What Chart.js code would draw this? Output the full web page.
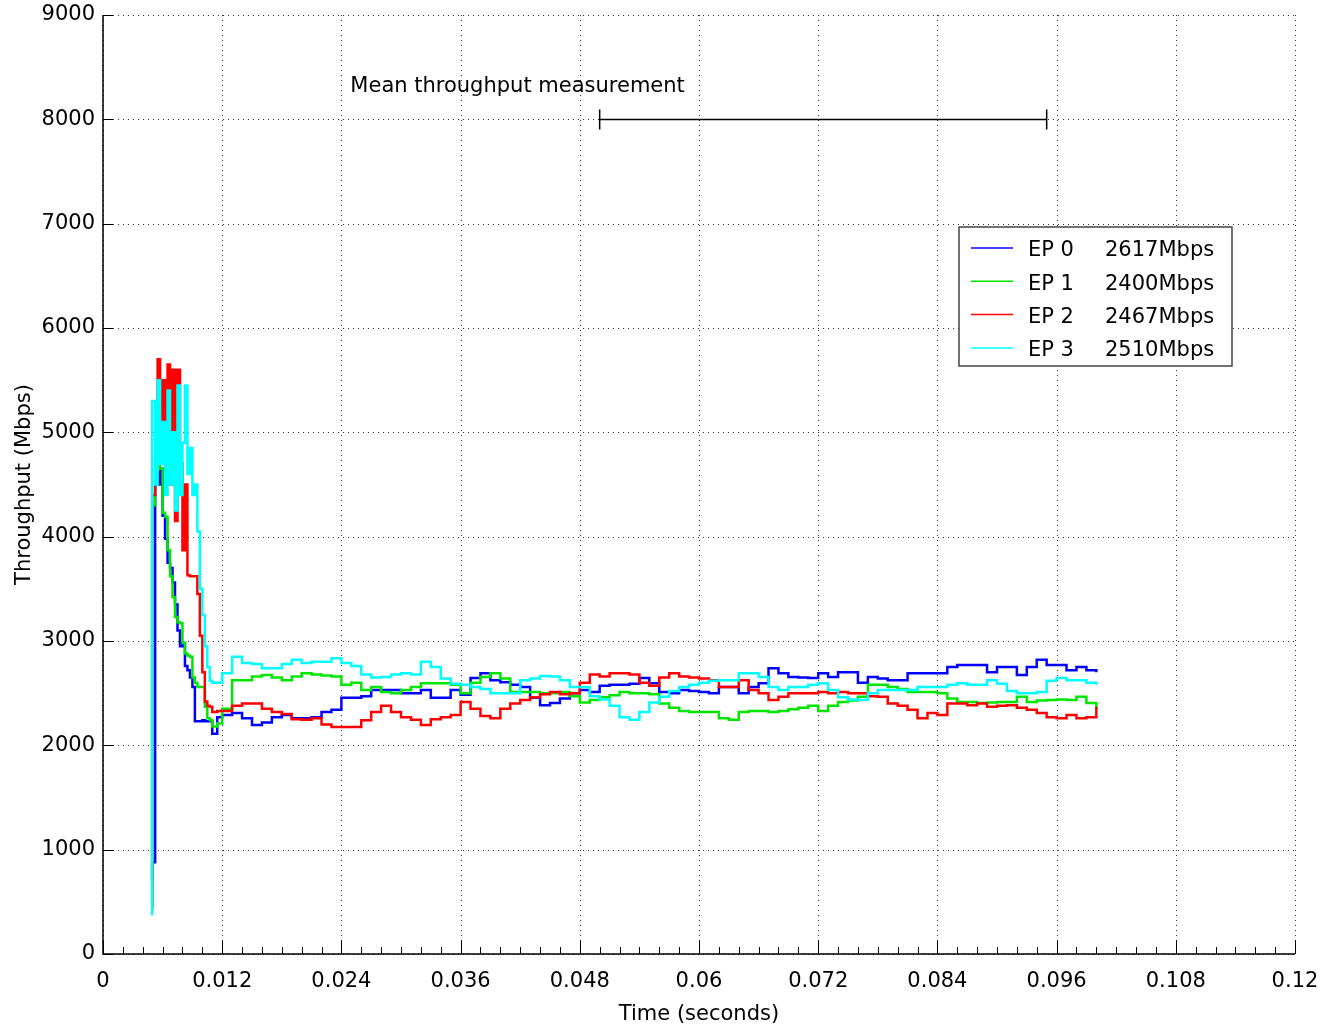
<!DOCTYPE html>
<html>
<head>
<meta charset="utf-8">
<title>Endpoint throughput</title>
<script src="https://cdn.jsdelivr.net/npm/chart.js@4.4.0/dist/chart.umd.min.js"></script>
<style>
    body { margin: 0; background: #ffffff; }
    #wrap { width: 1321px; height: 1030px; }
</style>
</head>
<body>
<div id="wrap"><canvas id="throughputChart"></canvas></div>
<script>
// sample times in milliseconds (finer during the start-up burst)
const timeMs = [
    4.85, 4.95, 5.25, 5.5, 5.75, 6.0, 6.25, 6.5, 6.75, 7.0,
    7.25, 7.5, 7.75, 8.0, 8.25, 8.5, 8.75, 9.0, 9.25, 9.5,
    9.75, 10.0, 10.25, 10.5, 10.75, 11.0, 11.5,
    12, 13, 14, 15, 16, 17, 18, 19, 20, 21,
    22, 23, 24, 25, 26, 27, 28, 29, 30, 31,
    32, 33, 34, 35, 36, 37, 38, 39, 40, 41,
    42, 43, 44, 45, 46, 47, 48, 49, 50, 51,
    52, 53, 54, 55, 56, 57, 58, 59, 60, 61,
    62, 63, 64, 65, 66, 67, 68, 69, 70, 71,
    72, 73, 74, 75, 76, 77, 78, 79, 80, 81,
    82, 83, 84, 85, 86, 87, 88, 89, 90, 91,
    92, 93, 94, 95, 96, 97, 98, 99, 100
];

// throughput in Mbps for each endpoint
const ep0 = [
    700, 880, 4600, 4500, 4650, 4200, 3980, 3750, 3700, 3560,
    3350, 3100, 2950, 2980, 2760, 2720, 2650, 2560, 2230, 2230,
    2230, 2240, 2230, 2230, 2230, 2110, 2270,
    2290, 2310, 2260, 2195, 2220, 2270, 2290, 2260, 2260, 2270,
    2320, 2340, 2455, 2455, 2470, 2530, 2530, 2530, 2500, 2500,
    2530, 2455, 2455, 2530, 2485, 2645, 2690, 2625, 2605, 2580,
    2560, 2455, 2385, 2405, 2450, 2500, 2530, 2510, 2570, 2580,
    2580, 2590, 2645, 2595, 2510, 2500, 2530, 2520, 2510, 2500,
    2560, 2560, 2500, 2560, 2595, 2740, 2690, 2655, 2650, 2645,
    2690, 2655, 2700, 2700, 2600, 2655, 2640, 2625, 2625, 2690,
    2690, 2690, 2690, 2750, 2770, 2770, 2770, 2700, 2750, 2750,
    2675, 2750, 2820, 2770, 2770, 2720, 2750, 2720, 2700
];
const ep1 = [
    420, 4300, 4750, 4820, 4650, 4230, 4190, 3870, 3620, 3420,
    3230, 3180, 3170, 2980, 2880, 2860, 2850, 2650, 2600, 2560,
    2560, 2560, 2370, 2260, 2240, 2180, 2210,
    2350, 2625, 2625, 2660, 2675, 2650, 2625, 2660, 2690, 2680,
    2670, 2660, 2580, 2600, 2530, 2560, 2510, 2500, 2530, 2560,
    2595, 2595, 2595, 2580, 2500, 2600, 2655, 2690, 2640, 2510,
    2510, 2510, 2500, 2500, 2510, 2470, 2410, 2435, 2460, 2480,
    2510, 2500, 2500, 2490, 2400, 2360, 2330, 2320, 2320, 2320,
    2260, 2245, 2320, 2330, 2330, 2320, 2330, 2345, 2360, 2380,
    2330, 2380, 2415, 2430, 2465, 2580, 2580, 2560, 2540, 2510,
    2510, 2510, 2500, 2450, 2415, 2415, 2405, 2410, 2415, 2415,
    2465, 2415, 2430, 2435, 2440, 2435, 2465, 2405, 2340
];
const ep2 = [
    450, 4400, 4700, 5700, 4900, 5500, 4600, 5650, 4500, 5600,
    4150, 5600, 4700, 3870, 4500, 3630, 3620, 3620, 3620, 3450,
    3050, 2700, 2420, 2380, 2370, 2320, 2330,
    2330, 2380, 2400, 2400, 2350, 2320, 2300, 2250, 2245, 2260,
    2200, 2175, 2175, 2175, 2240, 2320, 2380, 2320, 2270, 2245,
    2195, 2250, 2270, 2290, 2415, 2350, 2280, 2260, 2350, 2400,
    2435, 2460, 2490, 2510, 2490, 2500, 2600, 2680, 2660, 2690,
    2690, 2680, 2600, 2570, 2650, 2690, 2660, 2650, 2640, 2625,
    2560, 2560, 2625, 2530, 2500, 2435, 2465, 2500, 2500, 2500,
    2510, 2500, 2510, 2500, 2500, 2470, 2465, 2400, 2380, 2340,
    2260, 2310, 2290, 2400, 2400, 2385, 2400, 2370, 2380, 2385,
    2360, 2340, 2310, 2270, 2260, 2290, 2260, 2270, 2370
];
const ep3 = [
    380, 5300, 4500, 5500, 4700, 5100, 4400, 5400, 4500, 5000,
    4250, 5450, 4400, 4900, 5450, 4600, 4850, 4400, 4500, 4050,
    3500, 3250, 2950, 2750, 2620, 2600, 2600,
    2690, 2850, 2790, 2780, 2740, 2740, 2780, 2820, 2790, 2800,
    2800, 2835, 2790, 2760, 2680, 2650, 2655, 2680, 2690, 2680,
    2800, 2750, 2640, 2590, 2580, 2560, 2540, 2500, 2500, 2500,
    2625, 2640, 2665, 2660, 2625, 2560, 2560, 2470, 2440, 2380,
    2270, 2245, 2320, 2410, 2465, 2520, 2560, 2580, 2600, 2620,
    2625, 2625, 2690, 2690, 2655, 2560, 2530, 2560, 2560, 2580,
    2595, 2530, 2460, 2440, 2435, 2500, 2530, 2530, 2530, 2530,
    2560, 2560, 2560, 2580, 2595, 2580, 2580, 2625, 2590, 2520,
    2500, 2500, 2510, 2620, 2645, 2625, 2625, 2600, 2580
];

const epLabels = ['EP 0', 'EP 1', 'EP 2', 'EP 3'];
const epMeans = ['2617Mbps', '2400Mbps', '2467Mbps', '2510Mbps'];
const epColors = ['#0000ff', '#00e600', '#ff0000', '#00ffff'];

// axis ranges and ticks
const xMax = 0.12;
const xStep = 0.012;
const xMinorStep = 0.002;
const yMax = 9000;
const yStep = 1000;

// measurement window annotation
const measureStart = 0.05;
const measureEnd = 0.095;
const measureLevel = 8000;
const measureText = 'Mean throughput measurement';
const measureTextAt = [0.0249, 8310];

const fontFamily = '"DejaVu Sans", "Liberation Sans", sans-serif';
const fontSize = 21;

function toPoints(values) {
    return values.map(function (v, i) {
        return { x: timeMs[i] / 1000, y: v };
    });
}

// dotted grid, inward ticks, solid left/bottom axes
const frameplugin = {
    id: 'frameplugin',
    beforeDatasetsDraw(chart) {
        const ctx = chart.ctx;
        const area = chart.chartArea;
        const xs = chart.scales.x;
        const ys = chart.scales.y;
        ctx.save();
        ctx.strokeStyle = '#333';
        ctx.lineWidth = 1;
        ctx.setLineDash([1, 4]);
        for (let k = 0; k <= Math.round(xMax / xStep); k++) {
            const px = Math.round(xs.getPixelForValue(k * xStep)) + 0.5;
            ctx.beginPath();
            ctx.moveTo(px, area.top);
            ctx.lineTo(px, area.bottom);
            ctx.stroke();
        }
        for (let k = 0; k <= Math.round(yMax / yStep); k++) {
            const py = Math.round(ys.getPixelForValue(k * yStep)) + 0.5;
            ctx.beginPath();
            ctx.moveTo(area.left, py);
            ctx.lineTo(area.right, py);
            ctx.stroke();
        }
        ctx.restore();
    },
    afterDatasetsDraw(chart) {
        const ctx = chart.ctx;
        const area = chart.chartArea;
        const xs = chart.scales.x;
        const ys = chart.scales.y;
        ctx.save();
        ctx.strokeStyle = '#000';
        ctx.lineWidth = 1;
        // minor + major x ticks
        const nMinor = Math.round(xMax / xMinorStep);
        const perMajor = Math.round(xStep / xMinorStep);
        for (let k = 0; k <= nMinor; k++) {
            const px = Math.round(xs.getPixelForValue(k * xMinorStep)) + 0.5;
            const len = (k % perMajor === 0) ? 14 : 7;
            ctx.beginPath();
            ctx.moveTo(px, area.bottom);
            ctx.lineTo(px, area.bottom - len);
            ctx.stroke();
        }
        for (let k = 0; k <= Math.round(yMax / yStep); k++) {
            const py = Math.round(ys.getPixelForValue(k * yStep)) + 0.5;
            ctx.beginPath();
            ctx.moveTo(area.left, py);
            ctx.lineTo(area.left + 10, py);
            ctx.stroke();
        }
        ctx.lineWidth = 1.5;
        ctx.beginPath();
        ctx.moveTo(area.left, area.top);
        ctx.lineTo(area.left, area.bottom);
        ctx.lineTo(area.right, area.bottom);
        ctx.stroke();
        ctx.restore();
    }
};

// measurement bar, its caption and the boxed legend
const notesplugin = {
    id: 'notesplugin',
    afterDatasetsDraw(chart) {
        const ctx = chart.ctx;
        const area = chart.chartArea;
        const xs = chart.scales.x;
        const ys = chart.scales.y;
        ctx.save();

        const x1 = xs.getPixelForValue(measureStart);
        const x2 = xs.getPixelForValue(measureEnd);
        const yl = Math.round(ys.getPixelForValue(measureLevel)) + 0.5;
        ctx.strokeStyle = '#000';
        ctx.lineWidth = 1.5;
        ctx.beginPath();
        ctx.moveTo(x1, yl);
        ctx.lineTo(x2, yl);
        ctx.moveTo(x1, yl - 10);
        ctx.lineTo(x1, yl + 10);
        ctx.moveTo(x2, yl - 10);
        ctx.lineTo(x2, yl + 10);
        ctx.stroke();

        ctx.fillStyle = '#000';
        ctx.font = fontSize + 'px ' + fontFamily;
        ctx.textAlign = 'left';
        ctx.textBaseline = 'middle';
        ctx.fillText(measureText, xs.getPixelForValue(measureTextAt[0]), ys.getPixelForValue(measureTextAt[1]));

        // legend box
        const bx = area.right - 336;
        const by = area.top + 212;
        const bw = 273;
        const bh = 139;
        ctx.fillStyle = '#fff';
        ctx.fillRect(bx, by, bw, bh);
        ctx.strokeStyle = '#444';
        ctx.lineWidth = 1.5;
        ctx.strokeRect(bx, by, bw, bh);
        for (let i = 0; i < epLabels.length; i++) {
            const ry = by + 21 + i * 33.3;
            ctx.strokeStyle = epColors[i];
            ctx.lineWidth = 1.5;
            ctx.beginPath();
            ctx.moveTo(bx + 12, ry);
            ctx.lineTo(bx + 54, ry);
            ctx.stroke();
            ctx.fillStyle = '#000';
            ctx.fillText(epLabels[i], bx + 69, ry + 3);
            ctx.fillText(epMeans[i], bx + 146, ry + 3);
        }
        ctx.restore();
    }
};

const datasets = [ep0, ep1, ep2, ep3].map(function (vals, i) {
    return {
        label: epLabels[i],
        data: toPoints(vals),
        borderColor: epColors[i],
        backgroundColor: epColors[i],
        borderWidth: 2.5,
        pointRadius: 0,
        stepped: true,
        fill: false,
        order: 4 - i
    };
});

const throughputCtx = document.getElementById('throughputChart').getContext('2d');
new Chart(throughputCtx, {
    type: 'line',
    data: { datasets: datasets },
    options: {
        responsive: true,
        maintainAspectRatio: false,
        animation: false,
        layout: {
            padding: { top: 15, right: 26, left: 0, bottom: 0 }
        },
        plugins: {
            legend: { display: false },
            tooltip: { enabled: false }
        },
        scales: {
            x: {
                type: 'linear',
                min: 0,
                max: xMax,
                grid: { display: false, drawTicks: false },
                border: { display: false },
                ticks: {
                    stepSize: xStep,
                    padding: 15,
                    color: '#000',
                    font: { family: fontFamily, size: fontSize },
                    maxRotation: 0,
                    callback: function (value) {
                        return String(+value.toFixed(3));
                    }
                },
                title: {
                    display: true,
                    text: 'Time (seconds)',
                    color: '#000',
                    font: { family: fontFamily, size: fontSize },
                    padding: { top: 4, bottom: 3 }
                },
                afterFit: function (scale) {
                    scale.height = 76;
                    scale.paddingLeft = 0;
                    scale.paddingRight = 0;
                }
            },
            y: {
                min: 0,
                max: yMax,
                grid: { display: false, drawTicks: false },
                border: { display: false },
                ticks: {
                    stepSize: yStep,
                    padding: 8,
                    color: '#000',
                    font: { family: fontFamily, size: fontSize },
                    callback: function (value) {
                        return String(value);
                    }
                },
                title: {
                    display: true,
                    text: 'Throughput (Mbps)',
                    color: '#000',
                    font: { family: fontFamily, size: fontSize },
                    padding: { top: 12, bottom: 4 }
                },
                afterFit: function (scale) {
                    scale.width = 103;
                    scale.paddingTop = 0;
                    scale.paddingBottom = 0;
                }
            }
        }
    },
    plugins: [frameplugin, notesplugin]
});
</script>
</body>
</html>
